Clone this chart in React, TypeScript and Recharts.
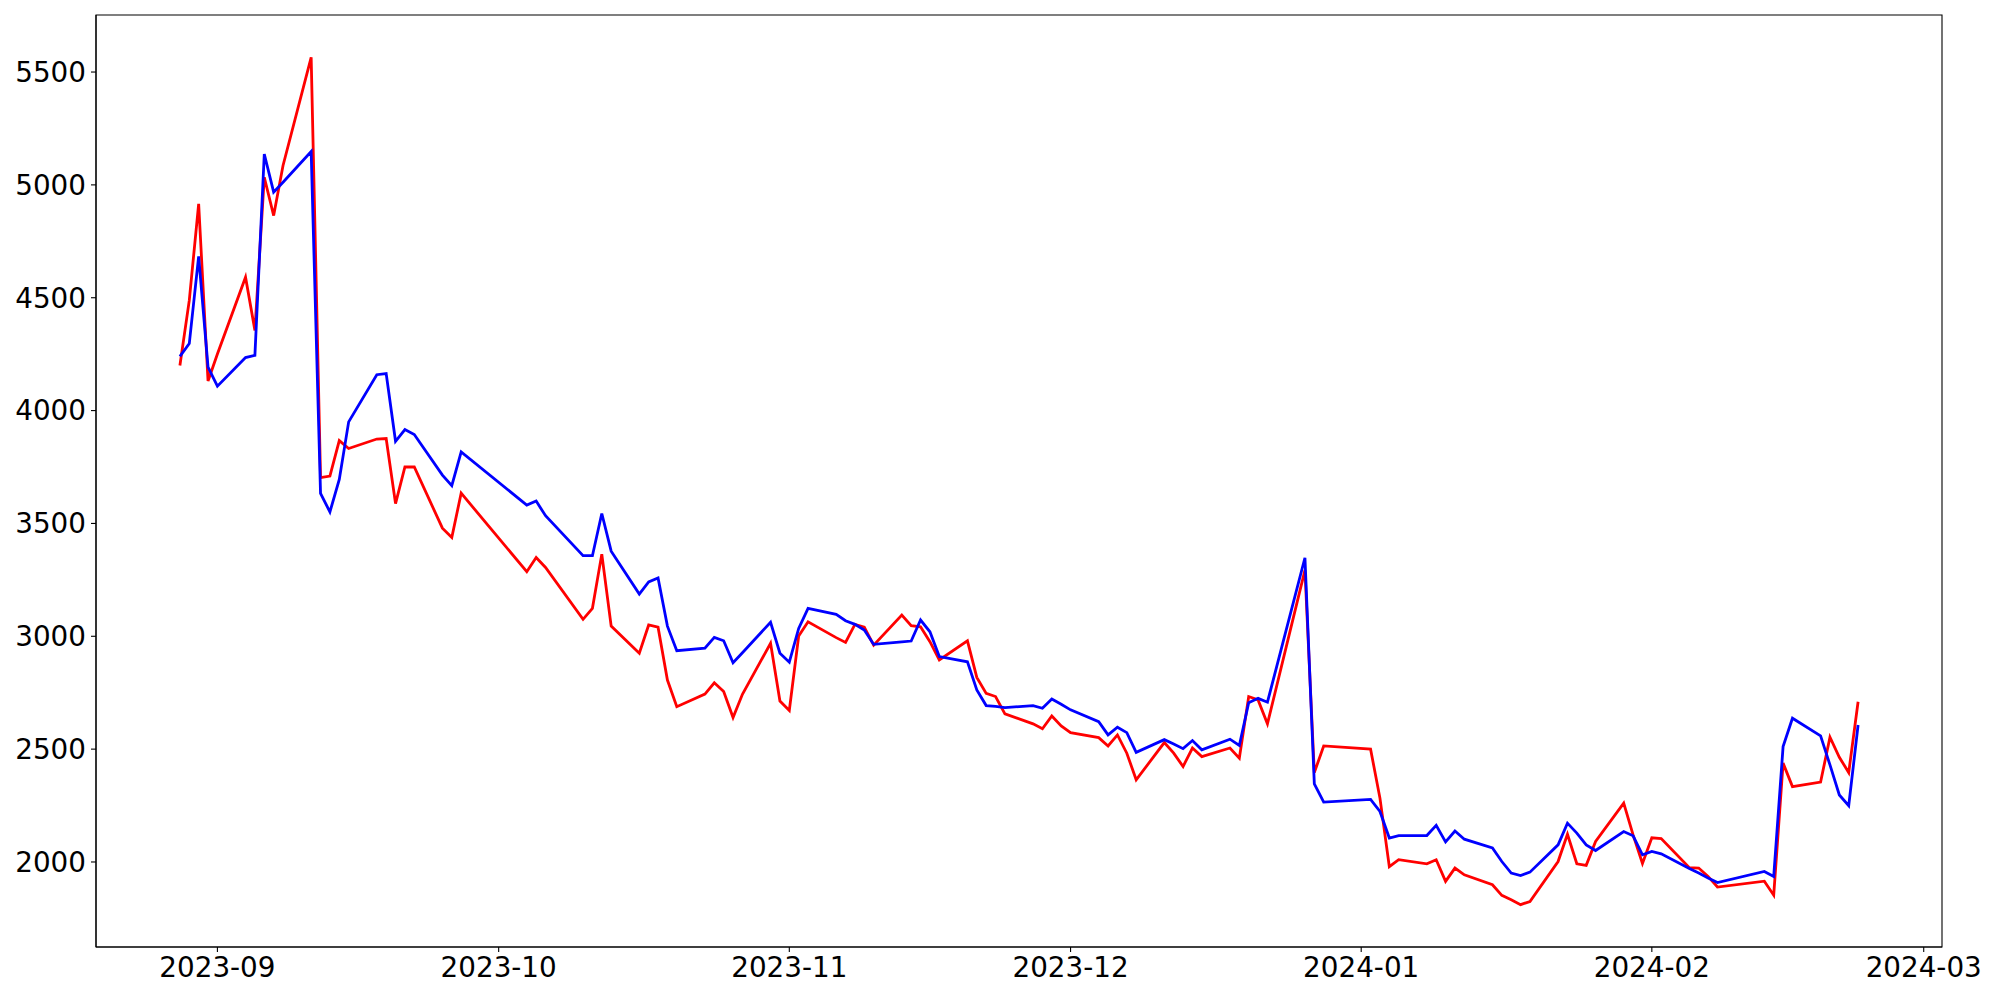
import React from 'react';
import { LineChart, Line, XAxis, YAxis, ReferenceArea } from 'recharts';

const dates = [
  '2023-08-28', '2023-08-29', '2023-08-30', '2023-08-31', '2023-09-01',
  '2023-09-04', '2023-09-05', '2023-09-06', '2023-09-07', '2023-09-08',
  '2023-09-11', '2023-09-12', '2023-09-13', '2023-09-14', '2023-09-15',
  '2023-09-18', '2023-09-19', '2023-09-20', '2023-09-21', '2023-09-22',
  '2023-09-25', '2023-09-26', '2023-09-27',
  '2023-10-04', '2023-10-05', '2023-10-06',
  '2023-10-10', '2023-10-11', '2023-10-12', '2023-10-13',
  '2023-10-16', '2023-10-17', '2023-10-18', '2023-10-19', '2023-10-20',
  '2023-10-23', '2023-10-24', '2023-10-25', '2023-10-26', '2023-10-27',
  '2023-10-30', '2023-10-31', '2023-11-01', '2023-11-02', '2023-11-03',
  '2023-11-06', '2023-11-07', '2023-11-08', '2023-11-09', '2023-11-10',
  '2023-11-13', '2023-11-14', '2023-11-15', '2023-11-16', '2023-11-17',
  '2023-11-20', '2023-11-21', '2023-11-22', '2023-11-23', '2023-11-24',
  '2023-11-27', '2023-11-28', '2023-11-29', '2023-11-30', '2023-12-01',
  '2023-12-04', '2023-12-05', '2023-12-06', '2023-12-07', '2023-12-08',
  '2023-12-11', '2023-12-12', '2023-12-13', '2023-12-14', '2023-12-15',
  '2023-12-18', '2023-12-19', '2023-12-20', '2023-12-21', '2023-12-22',
  '2023-12-26', '2023-12-27', '2023-12-28',
  '2024-01-02', '2024-01-03', '2024-01-04', '2024-01-05',
  '2024-01-08', '2024-01-09', '2024-01-10', '2024-01-11', '2024-01-12',
  '2024-01-15', '2024-01-16', '2024-01-17', '2024-01-18', '2024-01-19',
  '2024-01-22', '2024-01-23', '2024-01-24', '2024-01-25', '2024-01-26',
  '2024-01-29', '2024-01-30', '2024-01-31', '2024-02-01', '2024-02-02',
  '2024-02-05', '2024-02-06', '2024-02-07', '2024-02-08',
  '2024-02-13', '2024-02-14', '2024-02-15', '2024-02-16',
  '2024-02-19', '2024-02-20', '2024-02-21', '2024-02-22', '2024-02-23',
];

const redValues = [
  4200, 4488, 4916, 4131, 4251,
  4591, 4355, 5034, 4864, 5086,
  5565, 3703, 3710, 3867, 3832,
  3874, 3876, 3588, 3750, 3750,
  3479, 3438, 3634,
  3286, 3349, 3305,
  3075, 3124, 3364, 3045,
  2925, 3050, 3040, 2806, 2688,
  2744, 2794, 2755, 2640, 2743,
  2969, 2713, 2671, 3001, 3064,
  2994, 2973, 3053, 3040, 2961,
  3094, 3047, 3042, 2976, 2895,
  2980, 2818, 2747, 2733, 2656,
  2612, 2590, 2647, 2603, 2573,
  2551, 2514, 2563, 2482, 2364,
  2529, 2482, 2423, 2505, 2467,
  2505, 2460, 2733, 2718, 2612,
  3293, 2396, 2514,
  2500, 2283, 1979, 2010,
  1992, 2010, 1914, 1973, 1943,
  1899, 1852, 1833, 1811, 1825,
  2002, 2123, 1992, 1985, 2091,
  2261, 2120, 1993, 2107, 2104,
  1975, 1973, 1936, 1889,
  1915, 1853, 2438, 2334,
  2354, 2553, 2464, 2396, 2710,
];

const blueValues = [
  4240, 4297, 4683, 4193, 4108,
  4235, 4245, 5137, 4968, 5012,
  5148, 3633, 3551, 3695, 3950,
  4159, 4164, 3864, 3916, 3894,
  3714, 3667, 3817,
  3581, 3599, 3534,
  3357, 3357, 3544, 3377,
  3187, 3241, 3258, 3045, 2936,
  2947, 2995, 2980, 2883, 2927,
  3062, 2925, 2885, 3035, 3124,
  3097, 3069, 3053, 3028, 2964,
  2975, 2979, 3072, 3020, 2910,
  2887, 2762, 2693, 2689, 2684,
  2693, 2681, 2722, 2699, 2674,
  2622, 2563, 2597, 2573, 2486,
  2542, 2523, 2502, 2538, 2497,
  2544, 2516, 2706, 2725, 2708,
  3348, 2346, 2265,
  2277, 2224, 2106, 2117,
  2117, 2162, 2089, 2137, 2101,
  2062, 2002, 1951, 1940, 1955,
  2076, 2172, 2128, 2076, 2051,
  2135, 2116, 2032, 2047, 2036,
  1971, 1951, 1929, 1909,
  1958, 1936, 2511, 2637,
  2559, 2430, 2297, 2249, 2607,
];

const xTickLabels = ['2023-09', '2023-10', '2023-11', '2023-12', '2024-01', '2024-02', '2024-03'];
const yTicks = [2000, 2500, 3000, 3500, 4000, 4500, 5000, 5500];

const toTime = (s: string) => {
  const [y, m, d] = s.split('-').map(Number);
  return Date.UTC(y, m - 1, d || 1);
};

const data = dates.map((d, i) => ({ t: toTime(d), red: redValues[i], blue: blueValues[i] }));
const xTicks = xTickLabels.map((l) => toTime(l + '-01'));

const t0 = data[0].t;
const t1 = data[data.length - 1].t;
const xPad = (t1 - t0) * 0.05;
const xDomain: [number, number] = [t0 - xPad, t1 + xPad];

const allVals = [...redValues, ...blueValues];
const vMin = Math.min(...allVals);
const vMax = Math.max(...allVals);
const yPad = (vMax - vMin) * 0.05;
const yDomain: [number, number] = [vMin - yPad, vMax + yPad];

const fmtMonth = (v: number) => {
  const d = new Date(v);
  const m = d.getUTCMonth() + 1;
  return `${d.getUTCFullYear()}-${m < 10 ? '0' + m : m}`;
};

const tickStyle = { fill: '#000', fontSize: 27.8, fontFamily: 'DejaVu Sans' };

export default function App() {
  return (
    <div style={{ position: 'absolute', left: 0, top: 0, width: 2000, height: 1000, background: '#fff' }}>
      <LineChart width={2000} height={1000} data={data} margin={{ top: 15, right: 58, bottom: 0, left: 0 }}>
        <XAxis
          dataKey="t"
          type="number"
          domain={xDomain}
          ticks={xTicks}
          tickFormatter={fmtMonth}
          allowDataOverflow
          height={53}
          tick={tickStyle}
          tickSize={5}
          tickMargin={5}
          stroke="#000"
          axisLine={{ stroke: '#000', strokeWidth: 1.1 }}
          tickLine={{ stroke: '#000', strokeWidth: 1.1 }}
        />
        <YAxis
          type="number"
          domain={yDomain}
          ticks={yTicks}
          allowDataOverflow
          width={96}
          tick={tickStyle}
          tickSize={5}
          tickMargin={5}
          stroke="#000"
          axisLine={{ stroke: '#000', strokeWidth: 1.1 }}
          tickLine={{ stroke: '#000', strokeWidth: 1.1 }}
        />
        <Line type="linear" dataKey="red" stroke="#ff0000" strokeWidth={2.8} dot={false} isAnimationActive={false} />
        <Line type="linear" dataKey="blue" stroke="#0000ff" strokeWidth={2.8} dot={false} isAnimationActive={false} />
        <ReferenceArea
          x1={xDomain[0]}
          x2={xDomain[1]}
          y1={yDomain[0]}
          y2={yDomain[1]}
          fill="none"
          fillOpacity={0}
          stroke="#000"
          strokeWidth={1.1}
          strokeOpacity={1}
        />
      </LineChart>
    </div>
  );
}
